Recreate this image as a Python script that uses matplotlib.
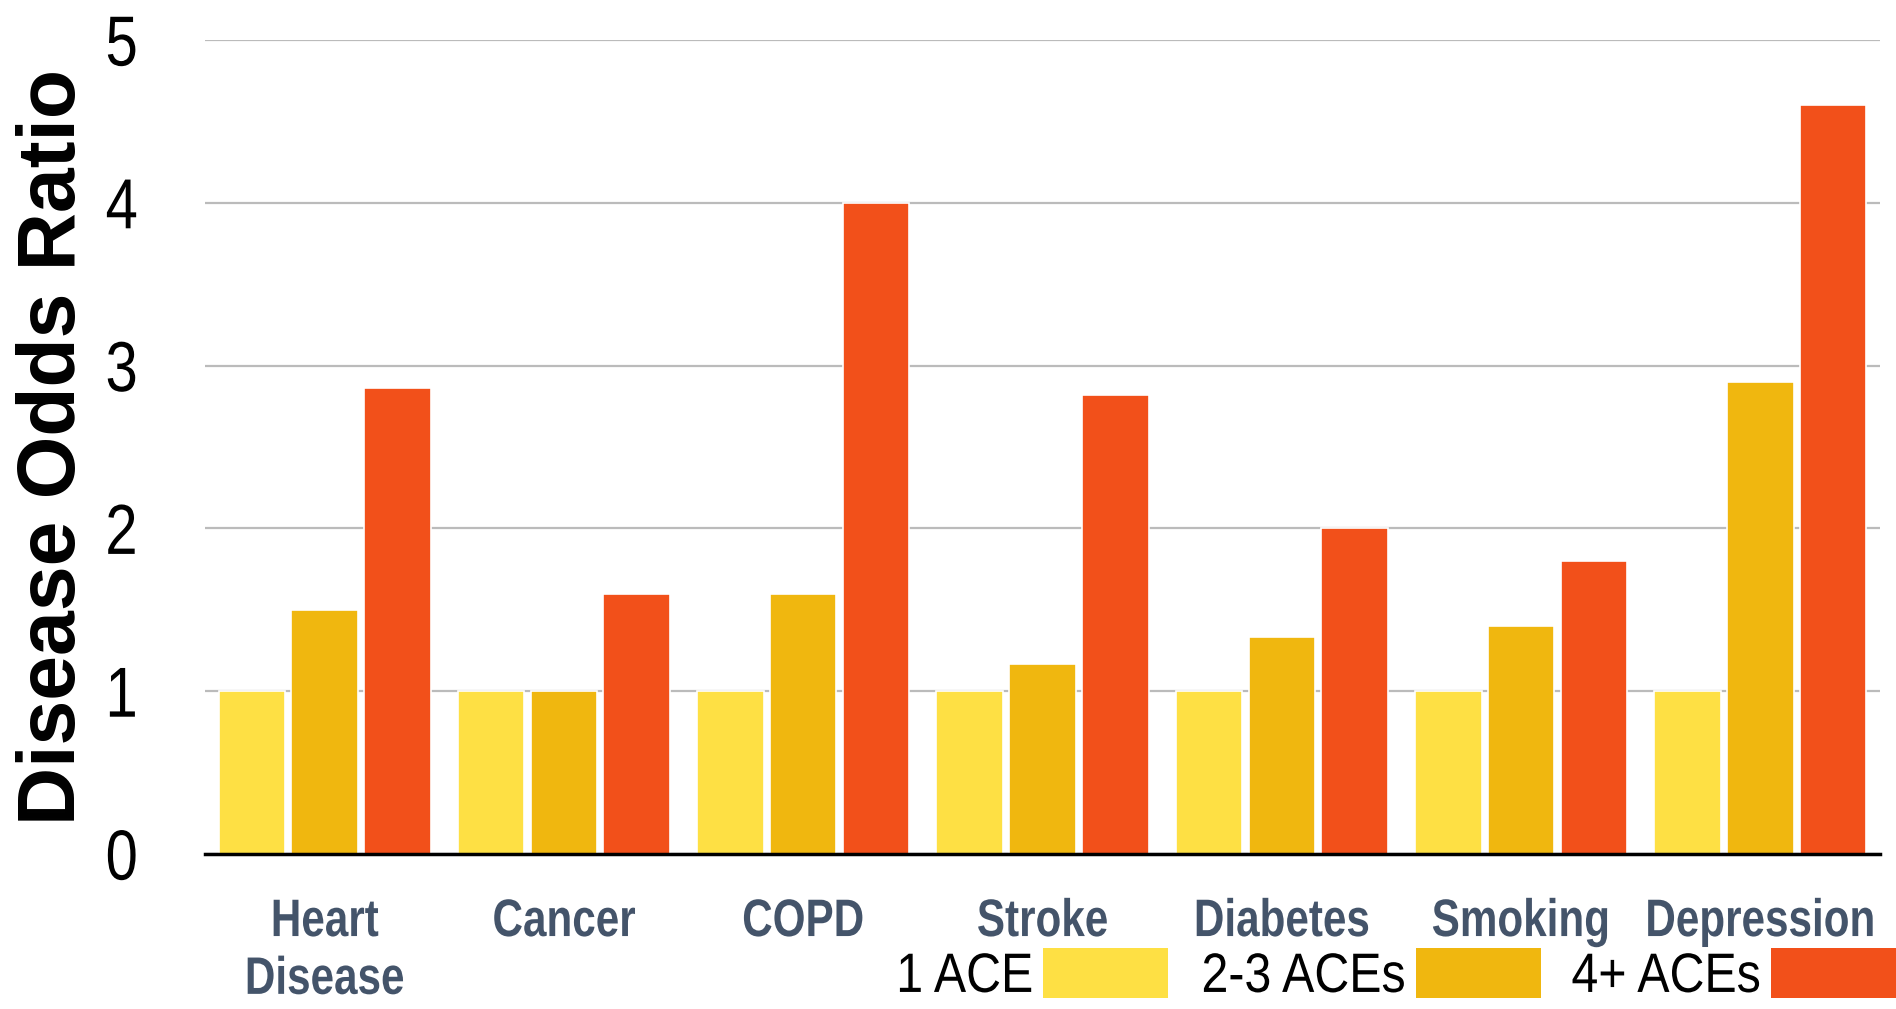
import numpy as np
import matplotlib
matplotlib.use("Agg")
import matplotlib.pyplot as plt
from matplotlib.patheffects import AbstractPathEffect
from matplotlib.transforms import Affine2D

# dados
doencas = ["Heart\nDisease", "Cancer", "COPD", "Stroke", "Diabetes", "Smoking", "Depression"]
ace_1 = [1.0, 1.0, 1.0, 1.0, 1.0, 1.0, 1.0]
ace_2_3 = [1.5, 1.0, 1.6, 1.17, 1.33, 1.40, 2.90]
ace_4 = [2.86, 1.60, 4.0, 2.82, 2.0, 1.80, 4.60]
series_labels = ["1 ACE", "2-3 ACEs", "4+ ACEs"]
cores = ["#FEE044", "#F0B70F", "#F2501A"]


# nao tem fonte "narrow" instalada, entao aperta o texto na horizontal
class Aperta(AbstractPathEffect):
    def __init__(self, sx, ancora="center"):
        super().__init__()
        self.sx = sx
        self.ancora = ancora

    def draw_path(self, renderer, gc, tpath, affine, rgbFace=None):
        xs = tpath.vertices[:, 0]
        if len(xs) == 0:
            return
        if self.ancora == "right":
            cx = xs.max()
        elif self.ancora == "left":
            cx = xs.min()
        else:
            cx = (xs.min() + xs.max()) / 2
        t = Affine2D().translate(-cx, 0).scale(self.sx, 1).translate(cx, 0) + affine
        renderer.draw_path(gc, tpath, t, rgbFace)


plt.rcParams['font.family'] = ['Liberation Sans', 'DejaVu Sans']

fig = plt.figure(figsize=(18.96, 10.09), dpi=100)
ax = fig.add_axes([205 / 1896, 1 - 854 / 1009, (1880 - 205) / 1896, (854 - 40) / 1009])

x = np.arange(len(doencas))
passo = 0.304
largura = 0.278
for i, (vals, cor, lab) in enumerate(zip([ace_1, ace_2_3, ace_4], cores, series_labels)):
    ax.bar(x + (i - 1) * passo, vals, width=largura, color=cor, edgecolor="white",
           linewidth=1.2, label=lab, zorder=3)

ax.set_xlim(-0.5, len(doencas) - 0.5)
ax.set_ylim(0, 5)
ax.set_yticks([0, 1, 2, 3, 4, 5])
ax.yaxis.grid(True, color="#BBBBBB", linewidth=1.6, zorder=0)
ax.set_axisbelow(True)
for s in ["top", "right", "left"]:
    ax.spines[s].set_visible(False)
ax.spines["bottom"].set_color("black")
ax.spines["bottom"].set_linewidth(2.5)
ax.spines["bottom"].set_zorder(4)

ax.tick_params(axis="both", length=0)
ax.tick_params(axis="y", pad=48)
ax.tick_params(axis="x", pad=31)
ylabs = ax.set_yticklabels([str(v) for v in [0, 1, 2, 3, 4, 5]], fontsize=51)
for t in ylabs:
    t.set_path_effects([Aperta(0.82, "right")])
ax.set_xticks(x)
xlabs = ax.set_xticklabels(doencas, fontsize=38, fontweight="bold",
                           color="#44546A", linespacing=1.2)
for t in xlabs:
    t.set_path_effects([Aperta(0.80)])

fig.text(54 / 1896, 1 - 447 / 1009, "Disease Odds Ratio", rotation=90, fontsize=58,
         fontweight="bold", ha="center", va="center")

leg = ax.legend(ncol=3, markerfirst=False, frameon=False, loc="center right",
                bbox_to_anchor=(1.0, 1 - 976 / 1009), bbox_transform=fig.transFigure,
                prop={"size": 40}, handlelength=2.25, handleheight=1.0,
                handletextpad=0.18, columnspacing=0.05, borderaxespad=0, borderpad=0)
for h in leg.legend_handles:
    h.set_edgecolor("none")
for t in leg.get_texts():
    t.set_path_effects([Aperta(0.87, "right")])

fig.savefig("out.png", dpi=100)
